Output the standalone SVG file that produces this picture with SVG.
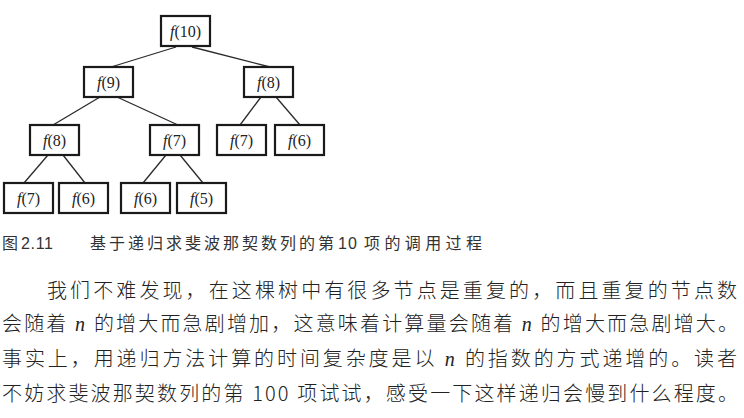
<svg xmlns="http://www.w3.org/2000/svg" width="744" height="418" viewBox="0 0 744 418">
<style>
.box{fill:#fff;stroke:#1a1a1a;stroke-width:2.2}
.lbl{font-family:"Liberation Serif",serif;font-size:16px;fill:#222;text-anchor:middle}
.it{font-style:italic}
.edge{stroke:#2a2a2a;stroke-width:1.3;fill:none}
.cap{font-family:"Liberation Sans","Noto Sans CJK SC",sans-serif;font-size:16px;fill:#333}
.para{font-family:"Noto Sans CJK SC",sans-serif;font-size:20px;fill:#222;font-weight:300}
.n{font-family:"Liberation Serif",serif;font-style:italic}
</style>
<rect width="744" height="418" fill="#fff"/>
<g id="connectors">
<line class="edge" x1="176" y1="47" x2="111" y2="67"/>
<line class="edge" x1="192" y1="47" x2="270" y2="67"/>
<line class="edge" x1="100" y1="97" x2="53" y2="125"/>
<line class="edge" x1="117" y1="97" x2="178" y2="125"/>
<line class="edge" x1="261" y1="97" x2="240" y2="125"/>
<line class="edge" x1="276" y1="97" x2="300" y2="125"/>
<line class="edge" x1="48" y1="155" x2="24" y2="183"/>
<line class="edge" x1="63" y1="155" x2="85" y2="183"/>
<line class="edge" x1="166" y1="155" x2="143" y2="183"/>
<line class="edge" x1="180" y1="155" x2="203" y2="183"/>
</g>
<g id="n_f10"><rect class="box" x="161" y="16" width="49" height="30"/><text class="lbl" x="185.5" y="37"><tspan class="it">f</tspan>(10)</text></g>
<g id="n_f9"><rect class="box" x="84" y="67" width="49" height="30"/><text class="lbl" x="108.5" y="88"><tspan class="it">f</tspan>(9)</text></g>
<g id="n_f8r"><rect class="box" x="244" y="67" width="49" height="30"/><text class="lbl" x="268.5" y="88"><tspan class="it">f</tspan>(8)</text></g>
<g id="n_f8l"><rect class="box" x="30" y="125" width="49" height="30"/><text class="lbl" x="54.5" y="146"><tspan class="it">f</tspan>(8)</text></g>
<g id="n_f7m"><rect class="box" x="150" y="125" width="49" height="30"/><text class="lbl" x="174.5" y="146"><tspan class="it">f</tspan>(7)</text></g>
<g id="n_f7r"><rect class="box" x="217" y="125" width="49" height="30"/><text class="lbl" x="241.5" y="146"><tspan class="it">f</tspan>(7)</text></g>
<g id="n_f6r"><rect class="box" x="275" y="125" width="49" height="30"/><text class="lbl" x="299.5" y="146"><tspan class="it">f</tspan>(6)</text></g>
<g id="n_f7b"><rect class="box" x="4" y="183" width="49" height="30"/><text class="lbl" x="28.5" y="204"><tspan class="it">f</tspan>(7)</text></g>
<g id="n_f6b1"><rect class="box" x="59" y="183" width="49" height="30"/><text class="lbl" x="83.5" y="204"><tspan class="it">f</tspan>(6)</text></g>
<g id="n_f6b2"><rect class="box" x="121" y="183" width="49" height="30"/><text class="lbl" x="145.5" y="204"><tspan class="it">f</tspan>(6)</text></g>
<g id="n_f5b"><rect class="box" x="177" y="183" width="49" height="30"/><text class="lbl" x="201.5" y="204"><tspan class="it">f</tspan>(5)</text></g>
<g id="caption">
<text class="cap" x="2" y="249">图</text>
<text class="cap" x="21" y="249" textLength="32" lengthAdjust="spacing">2.11</text>
<text class="cap" x="90" y="249" textLength="244" lengthAdjust="spacing">基于递归求斐波那契数列的第</text>
<text class="cap" x="338" y="249" textLength="19" lengthAdjust="spacing">10</text>
<text class="cap" x="364" y="249" textLength="118" lengthAdjust="spacing">项的调用过程</text>
</g>
<g id="paragraph">
<text class="para" x="47" y="298" textLength="690" lengthAdjust="spacing">我们不难发现，在这棵树中有很多节点是重复的，而且重复的节点数</text>
<text class="para" x="2" y="331" textLength="736" lengthAdjust="spacing">会随着 <tspan class="n">n</tspan> 的增大而急剧增加，这意味着计算量会随着 <tspan class="n">n</tspan> 的增大而急剧增大。</text>
<text class="para" x="2" y="366" textLength="735" lengthAdjust="spacing">事实上，用递归方法计算的时间复杂度是以 <tspan class="n">n</tspan> 的指数的方式递增的。读者</text>
<text class="para" x="2" y="401" textLength="736" lengthAdjust="spacing">不妨求斐波那契数列的第 100 项试试，感受一下这样递归会慢到什么程度。</text>
</g>
</svg>
